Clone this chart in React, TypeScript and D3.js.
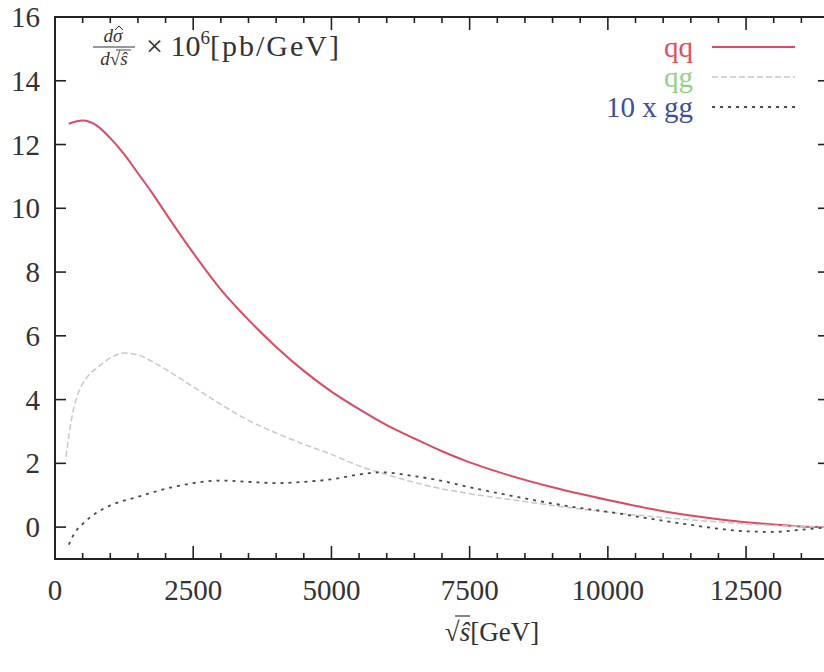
import { useEffect, useRef } from "react";
import * as d3 from "d3";

// sqrt(s-hat) in GeV, and the three curves
const qqX = [250, 500, 750, 1000, 1250, 1500, 1750, 2000, 2500, 3000, 3500, 4000, 4500, 5000, 5500, 6000, 6500, 7000, 7500, 8000, 9000, 10000, 11000, 12000, 13000, 13500, 14000];
const qqY = [12.65, 12.75, 12.6, 12.2, 11.7, 11.1, 10.5, 9.85, 8.6, 7.45, 6.5, 5.65, 4.9, 4.25, 3.7, 3.2, 2.78, 2.38, 2.03, 1.74, 1.25, 0.85, 0.5, 0.25, 0.08, 0.02, 0.0];

const qgX = [200, 300, 400, 500, 600, 750, 1000, 1250, 1500, 1750, 2000, 2500, 3000, 3500, 4000, 4500, 5000, 5500, 6000, 6500, 7000, 7500, 8000, 8500, 9000, 9500, 10000, 10500, 11000, 11500, 12000, 12500, 13000, 13500, 14000];
const qgY = [2.2, 3.4, 4.1, 4.5, 4.75, 4.98, 5.3, 5.46, 5.4, 5.2, 4.95, 4.4, 3.85, 3.35, 2.95, 2.6, 2.28, 1.92, 1.65, 1.4, 1.2, 1.05, 0.92, 0.8, 0.68, 0.57, 0.47, 0.38, 0.3, 0.23, 0.16, 0.1, 0.05, 0.02, 0.0];

const ggX = [250, 350, 500, 750, 1000, 1500, 2000, 2500, 3000, 3500, 4000, 4500, 5000, 5500, 5900, 6500, 7000, 7500, 8000, 8500, 9000, 9500, 10000, 10500, 11000, 11500, 12000, 12500, 13000, 13500, 14000];
const ggY = [-0.55, -0.2, 0.1, 0.45, 0.68, 0.95, 1.2, 1.38, 1.46, 1.42, 1.38, 1.42, 1.5, 1.65, 1.72, 1.6, 1.45, 1.25, 1.07, 0.9, 0.74, 0.6, 0.48, 0.34, 0.2, 0.07, -0.05, -0.13, -0.15, -0.08, 0.0];

const xTicks = [0, 2500, 5000, 7500, 10000, 12500];
const yTicks = [0, 2, 4, 6, 8, 10, 12, 14, 16];

const series = [
  { label: "qq", xs: qqX, ys: qqY, color: "#dc4b64", text: "#e0505e", dash: null, width: 2 },
  { label: "qg", xs: qgX, ys: qgY, color: "#c8c8c8", text: "#98d08a", dash: "6,3", width: 1.5 },
  { label: "10 x gg", xs: ggX, ys: ggY, color: "#4a4a4a", text: "#3f4f9c", dash: "3,5", width: 1.8 },
];

export default function App() {
  const svgRef = useRef<SVGSVGElement>(null);

  useEffect(() => {
    const svg = d3.select(svgRef.current);
    svg.selectAll("*").remove();

    const W = 824, H = 672;
    const m = { left: 55, top: 17, right: 829, bottom: 559 };
    const font = "Liberation Serif, DejaVu Serif, serif";
    const ink = "#333";

    const x = d3.scaleLinear().domain([0, 14000]).range([m.left, m.right]);
    const y = d3.scaleLinear().domain([-1, 16]).range([m.bottom, m.top]);

    svg.attr("width", W).attr("height", H);
    svg.append("rect").attr("width", W).attr("height", H).attr("fill", "#fff");

    const ax = svg.append("g").attr("stroke", "#222").attr("stroke-width", 1.6);

    // x ticks top and bottom, major every 2500, minor every 500
    d3.range(0, 14001, 500).forEach((v) => {
      const len = v % 2500 === 0 ? 13 : 6;
      ax.append("line").attr("x1", x(v)).attr("x2", x(v)).attr("y1", m.bottom).attr("y2", m.bottom - len);
      ax.append("line").attr("x1", x(v)).attr("x2", x(v)).attr("y1", m.top).attr("y2", m.top + len);
    });
    // y ticks left and right
    yTicks.forEach((v) => {
      ax.append("line").attr("x1", m.left).attr("x2", m.left + 11).attr("y1", y(v)).attr("y2", y(v));
      ax.append("line").attr("x1", m.right).attr("x2", m.right - 11).attr("y1", y(v)).attr("y2", y(v));
    });

    svg.append("rect")
      .attr("x", m.left).attr("y", m.top)
      .attr("width", m.right - m.left).attr("height", m.bottom - m.top)
      .attr("fill", "none").attr("stroke", "#222").attr("stroke-width", 2);

    // tick labels
    svg.append("g").selectAll("text").data(xTicks).enter().append("text")
      .attr("x", (d) => x(d)).attr("y", 600)
      .attr("text-anchor", "middle")
      .attr("font-family", font).attr("font-size", 29).attr("fill", ink)
      .text((d) => d);
    svg.append("g").selectAll("text").data(yTicks).enter().append("text")
      .attr("x", 40).attr("y", (d) => y(d) + 10)
      .attr("text-anchor", "end")
      .attr("font-family", font).attr("font-size", 29).attr("fill", ink)
      .text((d) => d);

    // curves
    const line = d3.line<[number, number]>()
      .x((d) => x(d[0]))
      .y((d) => y(d[1]))
      .curve(d3.curveMonotoneX);

    series.forEach((s) => {
      const pts = s.xs.map((v, i) => [v, s.ys[i]] as [number, number]);
      svg.append("path")
        .datum(pts)
        .attr("fill", "none")
        .attr("stroke", s.color)
        .attr("stroke-width", s.width)
        .attr("stroke-dasharray", s.dash)
        .attr("d", line);
    });

    // legend
    series.forEach((s, i) => {
      const ly = 47 + i * 30;
      svg.append("text")
        .attr("x", 693).attr("y", ly + 10)
        .attr("text-anchor", "end")
        .attr("font-family", font).attr("font-size", 29).attr("fill", s.text)
        .text(s.label);
      svg.append("line")
        .attr("x1", 712).attr("x2", 795).attr("y1", ly).attr("y2", ly)
        .attr("stroke", s.color).attr("stroke-width", s.width)
        .attr("stroke-dasharray", s.dash);
    });

    // y label in the corner: dσ̂ / d√ŝ × 10^6 [pb/GeV]
    const lab = svg.append("g").attr("font-family", font).attr("fill", ink);
    lab.append("text").attr("x", 113).attr("y", 42).attr("text-anchor", "middle")
      .attr("font-size", 19).attr("font-style", "italic").text("dσ");
    // hat over sigma
    lab.append("path").attr("d", "M115,30 L119,26 L123,30")
      .attr("fill", "none").attr("stroke", ink).attr("stroke-width", 1);
    lab.append("line").attr("x1", 93).attr("x2", 135).attr("y1", 47).attr("y2", 47)
      .attr("stroke", ink).attr("stroke-width", 1.2);
    lab.append("text").attr("x", 114).attr("y", 65).attr("text-anchor", "middle")
      .attr("font-size", 19).attr("font-style", "italic").text("d√ŝ");
    lab.append("line").attr("x1", 116).attr("x2", 131).attr("y1", 50).attr("y2", 50)
      .attr("stroke", ink).attr("stroke-width", 0.9);
    const t = lab.append("text").attr("x", 146).attr("y", 56).attr("font-size", 30);
    t.append("tspan").text("× 10");
    t.append("tspan").attr("font-size", 19).attr("dy", -12).text("6");
    t.append("tspan").attr("dy", 12).attr("letter-spacing", 2).text("[pb/GeV]");

    // x-axis title: √ŝ[GeV]
    const xt = svg.append("text").attr("x", 492).attr("y", 641).attr("text-anchor", "middle")
      .attr("font-family", font).attr("font-size", 27).attr("fill", ink);
    xt.append("tspan").text("√");
    xt.append("tspan").attr("font-style", "italic").text("ŝ");
    xt.append("tspan").text("[GeV]");
    svg.append("line").attr("x1", 455).attr("x2", 470).attr("y1", 616).attr("y2", 616)
      .attr("stroke", ink).attr("stroke-width", 1.2);
  }, []);

  return (
    <svg ref={svgRef} style={{ position: "absolute", left: 0, top: 0, display: "block" }} />
  );
}
